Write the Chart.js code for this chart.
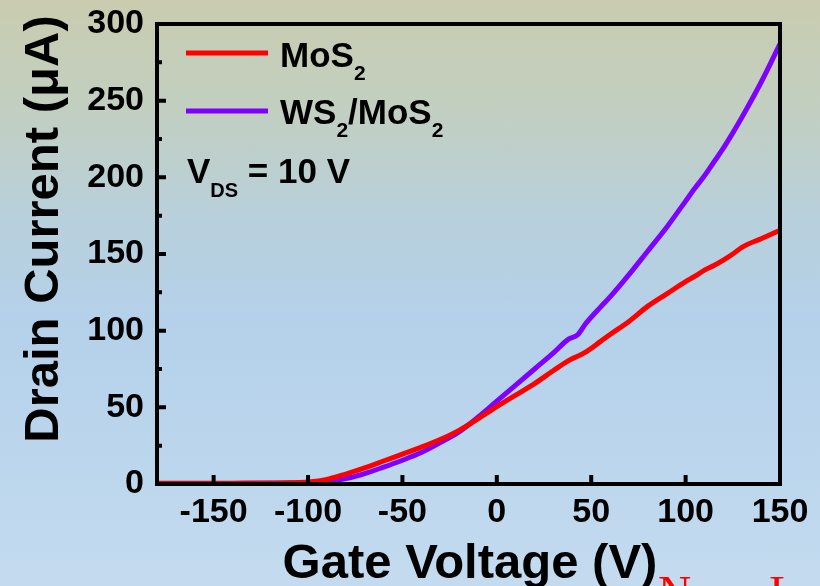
<!DOCTYPE html>
<html>
<head>
<meta charset="utf-8">
<title>Drain current vs gate voltage</title>
<script src="https://cdn.jsdelivr.net/npm/chart.js@4.4.1/dist/chart.umd.min.js"></script>
<style>
  html, body { margin: 0; padding: 0; }
  body {
    width: 820px; height: 586px; overflow: hidden;
    background: linear-gradient(to bottom, #c9ccaf 0%, #c2cfc0 18%, #b8d0dc 38%, #b5d1ea 55%, #bad5ec 75%, #c4dbef 100%);
  }
  #wrap { position: relative; width: 820px; height: 586px; }
</style>
</head>
<body>
<div id="wrap"><canvas id="transferChart" width="820" height="586"></canvas></div>
<script>
// gate sweep (V) shared by both devices
const gateV = [-180, -160, -140, -120, -110, -100, -90, -80, -70, -60, -50, -40, -30, -20, -10, 0,
  10, 20, 30, 38, 43, 47, 55, 60, 70, 80, 90, 100, 105, 110, 115, 120, 125, 130, 140, 150];

// drain current (uA)
const currentMoS2 = [0.3, 0.3, 0.4, 0.5, 0.8, 1.3, 3, 6.5, 10.5, 15, 19.5, 24, 29, 35, 42.5, 50.5,
  58, 65.5, 74, 80.5, 83.5, 86, 93, 97.5, 106, 116, 124, 132, 135.5, 139.5, 142.5, 146, 150, 154.5, 160, 165.5];
const currentHetero = [0.5, 0.5, 0.5, 0.6, 0.7, 0.9, 1.6, 3.5, 6.8, 11, 15.5, 20.5, 27, 34, 43.5, 54,
  64.5, 75, 85.5, 94.5, 97.5, 104.5, 115.5, 122, 136.5, 152, 167.5, 184.5, 193, 201, 210, 219, 229, 239.5, 262, 287];

const xTicks = [-150, -100, -50, 0, 50, 100, 150];
const yTicks = [0, 50, 100, 150, 200, 250, 300];
const yMinorTicks = [25, 75, 125, 175, 225, 275];

const FONT = '"Liberation Sans", Arial, Helvetica, sans-serif';

function toPoints(xs, ys) {
  return xs.map((v, i) => ({ x: v, y: ys[i] }));
}

// draw text with a subscript part: parts = [[text, isSub], ...]
function drawRich(ctx, parts, x, y, size, subSize, subDrop) {
  let cx = x;
  parts.forEach(([txt, sub]) => {
    ctx.font = 'bold ' + (sub ? subSize : size) + 'px ' + FONT;
    ctx.fillText(txt, cx, sub ? y + subDrop : y);
    cx += ctx.measureText(txt).width;
  });
}

const frameAndTicks = {
  id: 'frameAndTicks',
  afterDatasetsDraw(chart) {
    const { ctx, chartArea: a, scales: { x, y } } = chart;
    ctx.save();
    ctx.strokeStyle = '#000';
    ctx.lineWidth = 4;
    ctx.beginPath();
    xTicks.forEach(v => {
      if (v <= x.min || v >= x.max) return;
      const px = x.getPixelForValue(v);
      ctx.moveTo(px, a.bottom);
      ctx.lineTo(px, a.bottom - 9);
    });
    yTicks.forEach(v => {
      if (v <= y.min || v >= y.max) return;
      const py = y.getPixelForValue(v);
      ctx.moveTo(a.left, py);
      ctx.lineTo(a.left + 9, py);
    });
    yMinorTicks.forEach(v => {
      const py = y.getPixelForValue(v);
      ctx.moveTo(a.left, py);
      ctx.lineTo(a.left + 5, py);
    });
    ctx.stroke();
    ctx.lineJoin = 'miter';
    ctx.strokeRect(a.left, a.top, a.right - a.left, a.bottom - a.top);
    ctx.restore();
  }
};

const labelsPlugin = {
  id: 'labelsPlugin',
  afterDraw(chart) {
    const { ctx } = chart;
    const ds = chart.data.datasets;
    ctx.save();
    ctx.fillStyle = '#000';
    ctx.textBaseline = 'alphabetic';
    ctx.textAlign = 'left';

    // legend
    ctx.lineWidth = 5;
    ctx.strokeStyle = ds[0].borderColor;
    ctx.beginPath(); ctx.moveTo(186, 53); ctx.lineTo(268, 53); ctx.stroke();
    ctx.strokeStyle = ds[1].borderColor;
    ctx.beginPath(); ctx.moveTo(186, 111); ctx.lineTo(268, 111); ctx.stroke();
    drawRich(ctx, [['MoS', false], ['2', true]], 280, 67, 35, 21, 13);
    drawRich(ctx, [['WS', false], ['2', true], ['/MoS', false], ['2', true]], 280, 124, 35, 21, 13);
    drawRich(ctx, [['V', false], ['DS', true], [' = 10 V', false]], 187, 183, 35, 20, 14);

    // axis titles
    ctx.font = 'bold 49px ' + FONT;
    ctx.textAlign = 'center';
    ctx.fillText('Gate Voltage (V)', 470, 578);
    ctx.save();
    ctx.translate(58, 229);
    ctx.rotate(-Math.PI / 2);
    ctx.fillText('Drain Current (\u03bcA)', 0, 0);
    ctx.restore();

    // journal mark
    ctx.textAlign = 'left';
    ctx.fillStyle = '#ff0000';
    ctx.font = '46px "Liberation Serif", "Times New Roman", serif';
    ctx.fillText('Nano Letters', 658, 608);
    ctx.restore();
  }
};

const tickFont = { family: FONT, size: 34, weight: 'bold' };

new Chart(document.getElementById('transferChart'), {
  type: 'line',
  data: {
    datasets: [
      {
        label: 'MoS2',
        data: toPoints(gateV, currentMoS2),
        borderColor: '#ff0000',
        borderWidth: 5,
        pointRadius: 0,
        cubicInterpolationMode: 'monotone'
      },
      {
        label: 'WS2/MoS2',
        data: toPoints(gateV, currentHetero),
        borderColor: '#7f00ff',
        borderWidth: 5,
        pointRadius: 0,
        cubicInterpolationMode: 'monotone'
      }
    ]
  },
  options: {
    responsive: false,
    animation: false,
    devicePixelRatio: 1,
    layout: { padding: { top: 24, right: 40, left: 0, bottom: 0 } },
    plugins: { legend: { display: false }, tooltip: { enabled: false } },
    scales: {
      x: {
        type: 'linear',
        min: -180,
        max: 150,
        grid: { display: false, drawTicks: false },
        border: { display: false },
        afterBuildTicks: s => { s.ticks = xTicks.map(v => ({ value: v })); },
        afterFit: s => { s.height = 102; s.paddingLeft = 0; s.paddingRight = 0; },
        ticks: { font: tickFont, color: '#000', padding: 8, maxRotation: 0, autoSkip: false }
      },
      y: {
        min: 0,
        max: 300,
        grid: { display: false, drawTicks: false },
        border: { display: false },
        afterBuildTicks: s => { s.ticks = yTicks.map(v => ({ value: v })); },
        afterFit: s => { s.width = 157; s.paddingTop = 0; s.paddingBottom = 0; },
        ticks: { font: tickFont, color: '#000', padding: 13, autoSkip: false }
      }
    }
  },
  plugins: [frameAndTicks, labelsPlugin]
});
</script>
</body>
</html>
